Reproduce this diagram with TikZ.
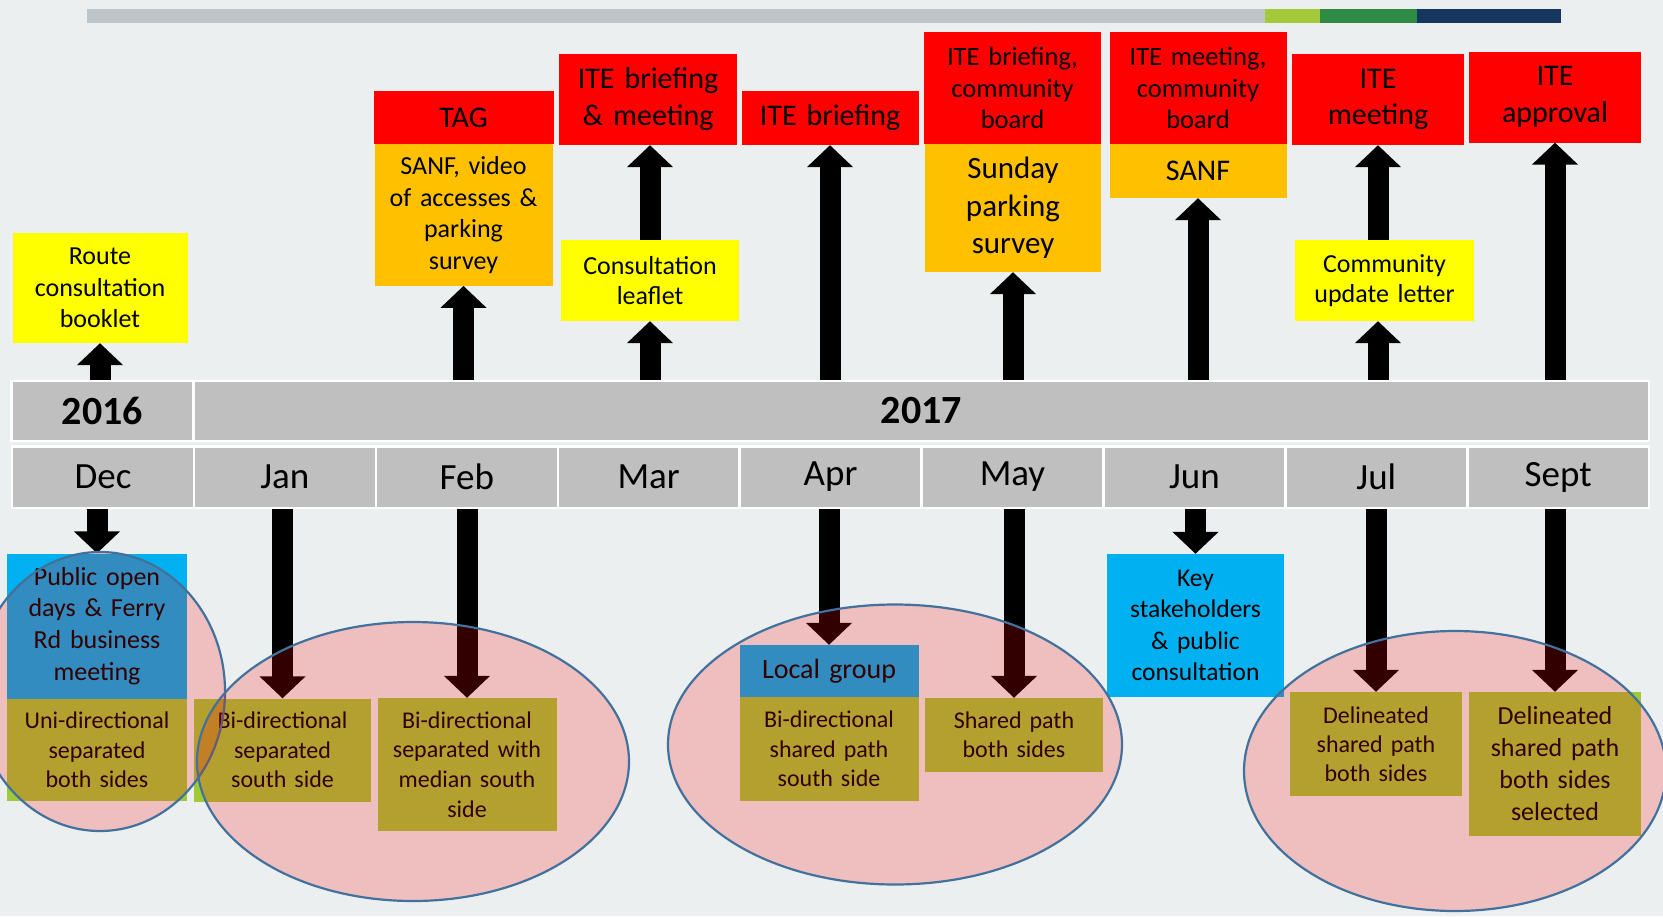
\documentclass[tikz,border=0pt]{standalone}
\usepackage{fontspec}
\setmainfont{Carlito}
\usetikzlibrary{arrows.meta}

\definecolor{pagebg}{RGB}{235,239,240}
\definecolor{bargrey}{RGB}{190,198,202}
\definecolor{barlime}{RGB}{161,201,58}
\definecolor{bargreen}{RGB}{46,139,69}
\definecolor{barnavy}{RGB}{23,55,94}
\definecolor{cellgrey}{RGB}{191,191,191}
\definecolor{itered}{RGB}{255,0,0}
\definecolor{sanforange}{RGB}{255,192,0}
\definecolor{leafyellow}{RGB}{255,255,0}
\definecolor{meetblue}{RGB}{0,176,240}
\definecolor{optionlime}{RGB}{160,201,58}
\definecolor{ringblue}{RGB}{65,113,156}

\newcommand{\fsz}[2]{\fontsize{#1}{#2}\selectfont}

\begin{document}
\begin{tikzpicture}[x=1pt, y=-1pt,
    card/.style={inner sep=0pt, align=center, text width=168pt, font=\fsz{26}{31.7}},
    cell/.style={fill=cellgrey, draw=white, line width=2.5pt, inner sep=0pt},
    blockarrow/.style={line width=21pt, -{Triangle[width=45pt,length=22pt]}},
    ring/.style={draw=ringblue, line width=2.2pt, fill=red, fill opacity=0.2}
]
    \useasboundingbox (0,0) rectangle (1663,916);
    \fill[pagebg] (0,0) rectangle (1663,916);

    % strip along the top
    \fill[bargrey] (87,8.5) rectangle (1265,22.5);
    \fill[barlime] (1265,8.5) rectangle (1320,22.5);
    \fill[bargreen] (1320,8.5) rectangle (1417,22.5);
    \fill[barnavy] (1417,8.5) rectangle (1561,22.5);

    % years and months
    \node[cell, minimum width=182pt, minimum height=60pt, font=\bfseries\fsz{40}{48}] (y16) at (102.5,411) {\raisebox{-3pt}{2016}};
    \node[cell, minimum width=1455pt, minimum height=60pt, font=\bfseries\fsz{40}{48}] (y17) at (921.5,411) {\raisebox{-3pt}{2017}};
    \foreach \m [count=\i from 0] in {Dec,Jan,Feb,Mar,Apr,May,Jun,Jul,Sept}
        \node[cell, minimum width=181.9pt, minimum height=61.5pt, font=\fsz{37}{44}] (\m) at (103+181.9*\i,477) {\raisebox{-3pt}{\m}};

    % above the timeline
    \node[card, fill=leafyellow, minimum width=175pt, minimum height=110pt] (booklet) at (100,288) {Route\\consultation\\booklet};
    \node[card, fill=itered, minimum width=180pt, minimum height=53pt, font=\fsz{30}{36.7}] (tag) at (463.5,117.5) {TAG};
    \node[card, fill=sanforange, minimum width=178pt, minimum height=141.5pt] (sanfvideo) at (463.5,215) {SANF, video\\of accesses \&\\parking\\survey};
    \node[card, fill=itered, minimum width=178pt, minimum height=91pt, font=\fsz{30}{36.7}] (itebm) at (648,99.5) {ITE briefing\\\& meeting};
    \node[card, fill=leafyellow, minimum width=178pt, minimum height=81pt, font=\fsz{26}{30.5}] (leaflet) at (650,280.5) {Consultation\\leaflet};
    \node[card, fill=itered, minimum width=177pt, minimum height=54pt, font=\fsz{30}{36.7}] (itebrief) at (830,118) {ITE briefing};
    \node[card, fill=itered, minimum width=177pt, minimum height=112pt, font=\fsz{26.5}{31.3}] (itebcb) at (1012.5,88) {ITE briefing,\\community\\board};
    \node[card, fill=sanforange, minimum width=176pt, minimum height=128pt, font=\fsz{31}{37.5}] (sunday) at (1013,208) {Sunday\\parking\\survey};
    \node[card, fill=itered, minimum width=177pt, minimum height=112pt, font=\fsz{26.5}{31.3}] (itemcb) at (1198,88) {ITE meeting,\\community\\board};
    \node[card, fill=sanforange, minimum width=177pt, minimum height=54pt, font=\fsz{30}{36.7}] (sanf) at (1198,171) {SANF};
    \node[card, fill=itered, minimum width=172pt, minimum height=91pt, font=\fsz{30}{36.7}] (itemeet) at (1378,99.5) {ITE\\meeting};
    \node[card, fill=leafyellow, minimum width=179pt, minimum height=81pt, font=\fsz{26}{30.5}] (update) at (1384.5,280.5) {Community\\update letter};
    \node[card, fill=itered, minimum width=172pt, minimum height=91pt, font=\fsz{30}{36.7}] (iteok) at (1555,97) {ITE\\approval};

    % below the timeline
    \node[card, fill=meetblue, minimum width=180pt, minimum height=145pt] (opendays) at (97,626) {Public open\\days \& Ferry\\Rd business\\meeting};
    \node[card, fill=optionlime, minimum width=180pt, minimum height=102pt, font=\fsz{24}{29.7}] (unisep) at (97,750) {Uni-directional\\separated\\both sides};
    \node[card, fill=optionlime, minimum width=177pt, minimum height=103pt, font=\fsz{24}{29.7}] (bisep) at (282.5,750) {Bi-directional\\separated\\south side};
    \node[card, fill=optionlime, minimum width=179pt, minimum height=133pt, font=\fsz{24}{29.7}] (bimedian) at (467,764.5) {Bi-directional\\separated with\\median south\\side};
    \node[card, fill=meetblue, minimum width=179pt, minimum height=52pt, font=\fsz{28}{34}] (localgrp) at (829,671) {Local group};
    \node[card, fill=optionlime, minimum width=179pt, minimum height=104pt, font=\fsz{24}{29.7}] (bishared) at (829,749) {Bi-directional\\shared path\\south side};
    \node[card, fill=optionlime, minimum width=178pt, minimum height=74pt, font=\fsz{24}{29}] (shared) at (1014,735) {Shared path\\both sides};
    \node[card, fill=meetblue, minimum width=177pt, minimum height=143pt, font=\fsz{25.5}{31.3}] (keystake) at (1195.5,625.5) {Key\\stakeholders\\\& public\\consultation};
    \node[card, fill=optionlime, minimum width=172pt, minimum height=104pt, font=\fsz{24}{29}] (delin) at (1376,744) {Delineated\\shared path\\both sides};
    \node[card, fill=optionlime, minimum width=172.5pt, minimum height=144pt, font=\fsz{26}{32}] (delinsel) at (1555,764) {Delineated\\shared path\\both sides\\selected};

    % arrows up
    \draw[blockarrow] (booklet.south |- y16.north) -- (booklet.south);
    \draw[blockarrow] (sanfvideo.south |- y17.north) -- (sanfvideo.south);
    \draw[blockarrow] (leaflet.south |- y17.north) -- (leaflet.south);
    \draw[blockarrow] (leaflet.north) -- (leaflet.north |- itebm.south);
    \draw[blockarrow] (itebrief.south |- y17.north) -- (itebrief.south);
    \draw[blockarrow] (sunday.south |- y17.north) -- (sunday.south);
    \draw[blockarrow] (sanf.south |- y17.north) -- (sanf.south);
    \draw[blockarrow] (itemeet.south |- y17.north) -- (itemeet.south |- update.south);
    \draw[blockarrow] (itemeet.south |- update.north) -- (itemeet.south);
    \draw[blockarrow] (iteok.south |- y17.north) -- (iteok.south);

    % arrows down
    \draw[blockarrow] (opendays.north |- Dec.south) -- (opendays.north);
    \draw[blockarrow] (bisep.north |- Jan.south) -- (bisep.north);
    \draw[blockarrow] (bimedian.north |- Feb.south) -- (bimedian.north);
    \draw[blockarrow] (localgrp.north |- Apr.south) -- (localgrp.north);
    \draw[blockarrow] (shared.north |- May.south) -- (shared.north);
    \draw[blockarrow] (keystake.north |- Jun.south) -- (keystake.north);
    \draw[blockarrow] (delin.north |- Jul.south) -- (delin.north);
    \draw[blockarrow] (delinsel.north |- Sept.south) -- (delinsel.north);

    % groups of options
    \draw[ring] (100,691.5) ellipse [x radius=125, y radius=139.5];
    \draw[ring] (413,761.5) ellipse [x radius=216, y radius=139.5];
    \draw[ring] (895,744.5) ellipse [x radius=227, y radius=140];
    \draw[ring] (1455,771) ellipse [x radius=211, y radius=140];
\end{tikzpicture}
\end{document}
